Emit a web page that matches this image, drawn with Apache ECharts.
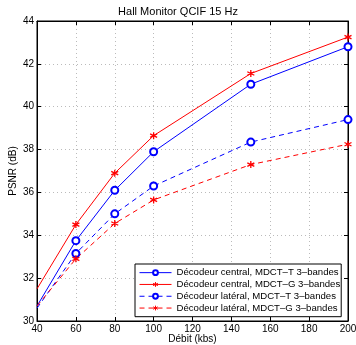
<!DOCTYPE html>
<html><head><meta charset="utf-8">
<script src="https://cdn.jsdelivr.net/npm/echarts@6/dist/echarts.min.js"></script>
<style>html,body{margin:0;padding:0;background:#fff}#c{width:356px;height:345px}</style>
</head><body><div id="c"></div>
<script>
const debit = [40, 60, 80, 100, 150, 200];
const centralT = [30.7, 33.75, 36.1, 37.9, 41.05, 42.8];
const centralG = [31.5, 34.5, 36.9, 38.65, 41.55, 43.25];
const lateralT = [30.6, 33.15, 35.0, 36.3, 38.35, 39.4];
const lateralG = [30.7, 32.9, 34.55, 35.65, 37.3, 38.25];
const names = ['Décodeur central, MDCT\u2013T 3\u2013bandes','Décodeur central, MDCT\u2013G 3\u2013bandes','Décodeur latéral, MDCT\u2013T 3\u2013bandes','Décodeur latéral, MDCT\u2013G 3\u2013bandes'];
const title = 'Hall Monitor QCIF 15 Hz';
const xName = 'Débit (kbs)';
const yName = 'PSNR (dB)';

const star = 'path://M0,-5L0,5M-4.33,-2.5L4.33,2.5M-4.33,2.5L4.33,-2.5';
function mk(vals){ return debit.map((x,i)=> i===0 ? {value:[x,vals[i]], symbol:'none'} : [x,vals[i]]); }
function ser(name, vals, color, dashed, isStar){
  return {
    name, type:'line', data: mk(vals), xAxisIndex:0, yAxisIndex:0,
    symbol: isStar ? star : 'emptyCircle',
    symbolSize: 7,
    showAllSymbol:true, clip:false,
    lineStyle:{color, width:1, type: dashed ? [5,4] : 'solid'},
    itemStyle: isStar ? {color, borderColor:color, borderWidth:1.3} : {color, borderColor:color, borderWidth:1},
    emphasis:{disabled:true}, animation:false
  };
}
const font = 'Liberation Sans, Arial, sans-serif';
const chart = echarts.init(document.getElementById('c'));
chart.setOption({
  animation:false,
  title:{text:title, left:'center', top:1, textStyle:{fontFamily:font, fontSize:11, fontWeight:'normal', color:'#000'}},
  grid:{left:37, right:8, top:21, bottom:24, containLabel:false, outerBoundsMode:'none', show:true, borderColor:'#000', borderWidth:1, backgroundColor:'#fff'},
  legend:{
    orient:'vertical', left:135, top:264, itemWidth:32, itemHeight:6, itemGap:0.5,
    padding:[3,1,3,4], backgroundColor:'#fff', borderColor:'#000', borderWidth:1,
    textStyle:{fontFamily:font, fontSize:9.6, lineHeight:11.3, color:'#000'}, data:names,
    lineStyle:{width:1}, itemStyle:{borderWidth:1}
  },
  xAxis:[{
    type:'value', min:40, max:200, interval:20,
    name:xName, nameLocation:'middle', nameGap:13, nameMoveOverlap:false,
    nameTextStyle:{fontFamily:font, fontSize:10, color:'#000'},
    axisLine:{show:true, lineStyle:{color:'#000'}},
    axisTick:{show:true, inside:true, length:4, lineStyle:{color:'#000'}},
    axisLabel:{fontFamily:font, fontSize:10, color:'#000', margin:3},
    splitLine:{show:true, lineStyle:{color:'#bbb', type:[1,3]}}
  },{
    type:'value', min:40, max:200, interval:20, position:'top',
    axisLine:{show:true, lineStyle:{color:'#000'}},
    axisTick:{show:true, inside:true, length:4, lineStyle:{color:'#000'}},
    axisLabel:{show:false}, splitLine:{show:false}
  }],
  yAxis:[{
    type:'value', min:30, max:44, interval:2,
    name:yName, nameLocation:'middle', nameGap:19, nameMoveOverlap:false,
    nameTextStyle:{fontFamily:font, fontSize:10, color:'#000'},
    axisLine:{show:true, lineStyle:{color:'#000'}},
    axisTick:{show:true, inside:true, length:4, lineStyle:{color:'#000'}},
    axisLabel:{fontFamily:font, fontSize:10, color:'#000', margin:3},
    splitLine:{show:true, lineStyle:{color:'#bbb', type:[1,3]}}
  },{
    type:'value', min:30, max:44, interval:2, position:'right',
    axisLine:{show:true, lineStyle:{color:'#000'}},
    axisTick:{show:true, inside:true, length:4, lineStyle:{color:'#000'}},
    axisLabel:{show:false}, splitLine:{show:false}
  }],
  series:[
    ser(names[0], centralT, '#0000ff', false, false),
    ser(names[1], centralG, '#ff0000', false, true),
    ser(names[2], lateralT, '#0000ff', true, false),
    ser(names[3], lateralG, '#ff0000', true, true)
  ]
});
</script></body></html>
